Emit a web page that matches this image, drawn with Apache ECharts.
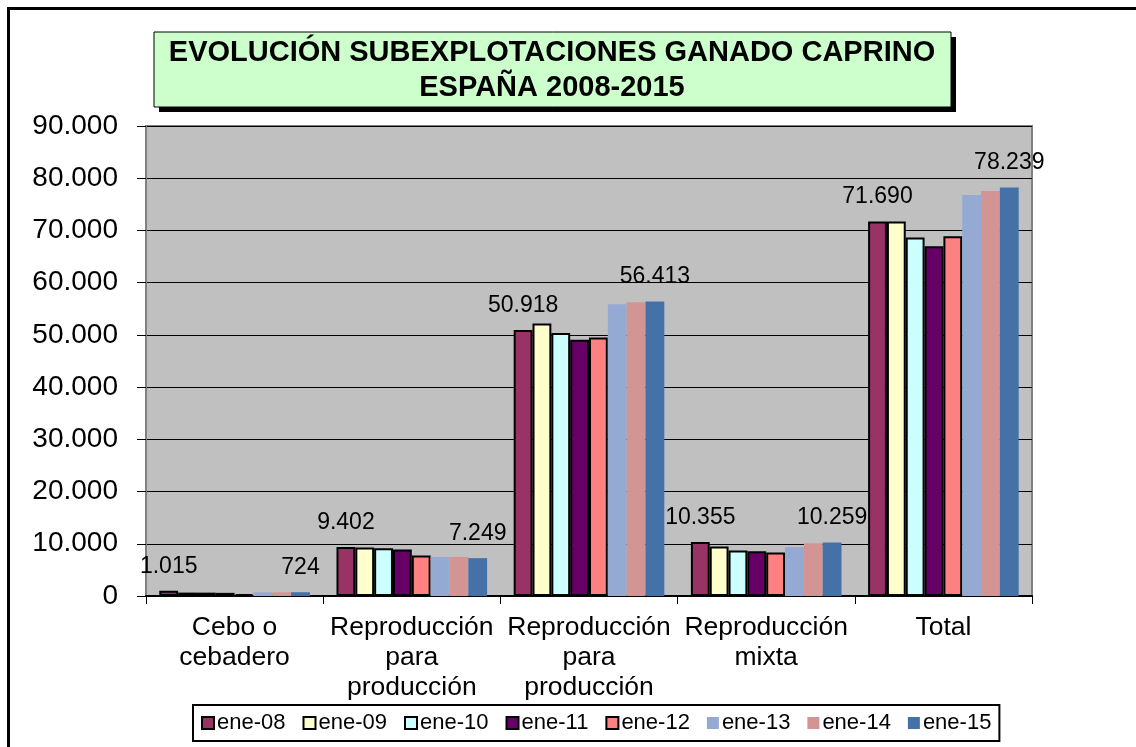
<!DOCTYPE html>
<html>
<head>
<meta charset="utf-8">
<script src="https://cdn.jsdelivr.net/npm/echarts@6/dist/echarts.min.js"></script>
<style>
  html, body { margin: 0; padding: 0; background: #fff; }
  #chart { width: 1136px; height: 747px; }
</style>
</head>
<body>
<div id="chart"></div>
<script>
// categories on the x axis
const categories = ['Cebo o\ncebadero', 'Reproducción\npara\nproducción', 'Reproducción\npara\nproducción', 'Reproducción\nmixta', 'Total'];
const seriesNames = ['ene-08', 'ene-09', 'ene-10', 'ene-11', 'ene-12', 'ene-13', 'ene-14', 'ene-15'];
const titleLines = ['EVOLUCIÓN SUBEXPLOTACIONES GANADO CAPRINO', 'ESPAÑA 2008-2015'];

// values per census date (ene = enero)
const ene08 = [1015, 9402, 50918, 10355, 71690];
const ene09 = [650, 9300, 52200, 9460, 71700];
const ene10 = [640, 9150, 50350, 8700, 68660];
const ene11 = [600, 8900, 49080, 8580, 66990];
const ene12 = [350, 7750, 49520, 8310, 68910];
const ene13 = [700, 7480, 55850, 9350, 76780];
const ene14 = [710, 7480, 56240, 10120, 77540];
const ene15 = [724, 7249, 56413, 10259, 78239];
const yTicks = [0, 10000, 20000, 30000, 40000, 50000, 60000, 70000, 80000, 90000];

const allValues = [ene08, ene09, ene10, ene11, ene12, ene13, ene14, ene15];
const colors = ['#993366', '#FFFFCC', '#CCFFFF', '#660066', '#FF8080', '#95AAD2', '#D29594', '#4472A8'];
const bordered = [true, true, true, true, true, false, false, false];
const labelled = [true, false, false, false, false, false, false, true];

const FONT = '"Liberation Sans", Arial, sans-serif';
const fmt = v => String(v).replace(/\B(?=(\d{3})+(?!\d))/g, '.');

const chart = echarts.init(document.getElementById('chart'));

const series = seriesNames.map((name, i) => ({
    name: name,
    type: 'bar',
    data: allValues[i],
    barGap: '0%',
    barCategoryGap: '15%',
    itemStyle: {
        color: colors[i],
        borderColor: '#000',
        borderWidth: bordered[i] ? 2 : 0
    },
    label: {
        show: labelled[i],
        position: 'top',
        distance: 13,
        fontFamily: FONT,
        fontSize: 23,
        color: '#000',
        formatter: p => fmt(p.value)
    }
}));

chart.setOption({
    animation: false,
    backgroundColor: '#fff',
    graphic: [
        // outer frame
        { type: 'rect', left: 6, top: 6, silent: true, shape: { width: 1200, height: 800 },
          style: { fill: 'none', stroke: '#000', lineWidth: 3 } },
        // title box with shadow
        { type: 'rect', x: 159, y: 37, silent: true, shape: { width: 797, height: 75 }, style: { fill: '#000' } },
        { type: 'rect', x: 154, y: 32, silent: true, shape: { width: 797, height: 75 },
          style: { fill: '#CCFFCC', stroke: '#000', lineWidth: 1 } },
        { type: 'text', x: 552, y: 53, silent: true,
          style: { text: titleLines[0], fontFamily: FONT, fontSize: 29, fontWeight: 'bold', fill: '#000', textAlign: 'center', textVerticalAlign: 'middle' } },
        { type: 'text', x: 552, y: 88, silent: true,
          style: { text: titleLines[1], fontFamily: FONT, fontSize: 29, fontWeight: 'bold', fill: '#000', textAlign: 'center', textVerticalAlign: 'middle' } }
    ],
    legend: {
        data: seriesNames,
        left: 193, top: 705,
        padding: [7, 8, 7, 8],
        borderColor: '#000', borderWidth: 2,
        itemWidth: 12, itemHeight: 12, itemGap: 17,
        icon: 'rect',
        textStyle: { fontFamily: FONT, fontSize: 22, color: '#000', padding: [0, 0, 0, -2] }
    },
    grid: {
        left: 146, right: 104, top: 126, bottom: 151,
        show: true, backgroundColor: '#C0C0C0', borderColor: '#808080', borderWidth: 2
    },
    xAxis: {
        type: 'category',
        data: categories,
        axisLine: { lineStyle: { color: '#000', width: 2 } },
        axisTick: { show: true, length: 8, lineStyle: { color: '#000', width: 1 } },
        axisLabel: { fontFamily: FONT, fontSize: 26.5, color: '#000', lineHeight: 30, margin: 17, interval: 0 }
    },
    yAxis: {
        type: 'value',
        min: yTicks[0], max: yTicks[yTicks.length - 1], interval: yTicks[1] - yTicks[0],
        axisLine: { show: true, lineStyle: { color: '#808080', width: 2 } },
        axisTick: { show: true, length: 9, lineStyle: { color: '#000', width: 1 } },
        axisLabel: { fontFamily: FONT, fontSize: 28, color: '#000', margin: 28, formatter: v => fmt(v) },
        splitLine: { show: true, lineStyle: { color: '#000', width: 1 } }
    },
    series: series
});
</script>
</body>
</html>
